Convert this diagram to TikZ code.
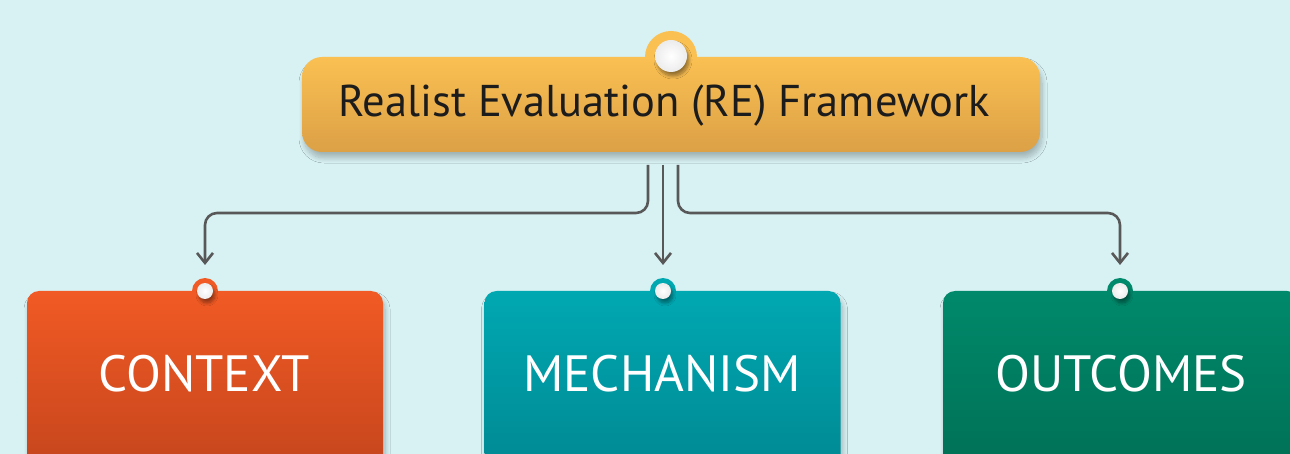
\documentclass[tikz,border=0pt]{standalone}
\usepackage{fontspec}
\setmainfont{PT Sans}
\usetikzlibrary{arrows.meta,shadows.blur}

\definecolor{bg}{HTML}{D8F1F3}
\definecolor{goldtop}{HTML}{FAC052}
\definecolor{goldbot}{HTML}{DCA046}
\definecolor{ink}{HTML}{1C1C1C}
\definecolor{wire}{HTML}{585858}
\definecolor{ctxtop}{HTML}{F15A24}
\definecolor{ctxbot}{HTML}{C5451D}
\definecolor{mectop}{HTML}{00A8B2}
\definecolor{mecbot}{HTML}{008993}
\definecolor{outtop}{HTML}{00896B}
\definecolor{outbot}{HTML}{007055}

\tikzset{
  softshadow/.style={blur shadow={shadow xshift=2pt,shadow yshift=-6pt,shadow blur steps=10,shadow opacity=25,shadow blur radius=5pt}},
  headbox/.style={rectangle,rounded corners=20pt,minimum width=738pt,minimum height=95pt,
    top color=goldtop,bottom color=goldbot,inner sep=0pt,softshadow},
  catbox/.style={rectangle,rounded corners=12pt,minimum width=356pt,minimum height=179pt,
    inner sep=0pt,softshadow},
  pin/.style={circle,inner sep=0pt,shading=radial,inner color=white,outer color=gray!15,
    blur shadow={shadow xshift=2pt,shadow yshift=-4pt,shadow blur steps=8,shadow opacity=40,shadow blur radius=3pt}},
  headtext/.style={anchor=base,inner sep=0pt,text=ink,font=\fontsize{44.5}{44.5}\selectfont},
  cattext/.style={anchor=base,inner sep=0pt,text=white,font=\fontsize{51}{51}\selectfont},
  conn/.style={draw=wire,line width=2.6pt,rounded corners=12pt,
    -{Straight Barb[length=10pt,width=16pt]}},
}

\begin{document}
\begin{tikzpicture}[x=1pt,y=-1pt]
\clip (0,0) rectangle (1290,454);
\fill[bg] (0,0) rectangle (1290,454);

% header with its tab and pin
\fill[goldtop] (671,57) circle[radius=26];
\node[headbox] (re) at (671,104.5) {};
\node[pin,minimum size=32pt] (repin) at (671,56) {};
\node[headtext] (retext) at (664,117) {Realist Evaluation (RE) Framework};

% the three category cards
\fill[ctxtop] (205,291) circle[radius=13];
\node[catbox,top color=ctxtop,bottom color=ctxbot] (ctx) at (205,380.5) {};
\node[pin,minimum size=16pt] (ctxpin) at (205,291) {};
\node[cattext] (ctxtext) at (204,391) {CONTEXT};

\fill[mectop] (663,291) circle[radius=13];
\node[catbox,top color=mectop,bottom color=mecbot] (mec) at (662.5,380.5) {};
\node[pin,minimum size=16pt] (mecpin) at (663,291) {};
\node[cattext] (mectext) at (662,391) {MECHANISM};

\fill[outtop] (1120,291) circle[radius=13];
\node[catbox,top color=outtop,bottom color=outbot] (out) at (1121,380.5) {};
\node[pin,minimum size=16pt] (outpin) at (1120,291) {};
\node[cattext] (outtext) at (1121,391) {OUTCOMES};

% connectors from the header to each card
\coordinate (s1) at (648,165);
\coordinate (s2) at (663,165);
\coordinate (s3) at (678,165);
\coordinate (bus) at (0,213);
\coordinate (e1) at (205,265);
\coordinate (e2) at (663,265);
\coordinate (e3) at (1120,265);

\draw[conn] (s1) -- (s1 |- bus) -| (e1);
\draw[conn] (s2) -- (e2);
\draw[conn] (s3) -- (s3 |- bus) -| (e3);
\end{tikzpicture}
\end{document}
